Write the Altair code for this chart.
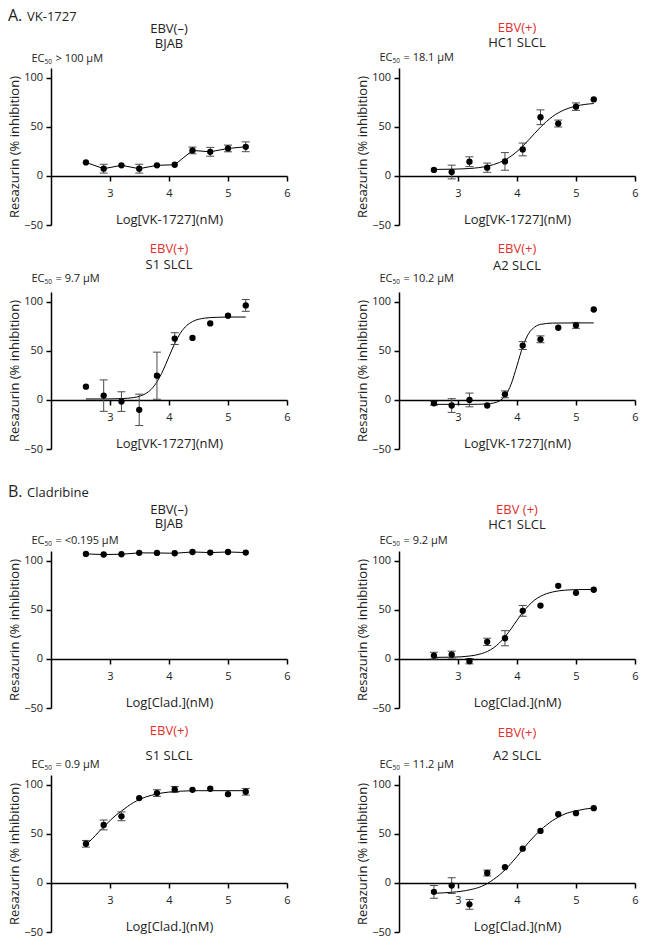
import altair as alt
import pandas as pd

FONT = "Open Sans"
RED = "#e0312f"
INK = "#222222"
GREY = "#4a4a4a"

# ---------------- data ----------------
LOGX = [2.592, 2.893, 3.194, 3.495, 3.796, 4.097, 4.398, 4.699, 5.000, 5.301]

# A. VK-1727
Y_VK_BJAB = [13.8, 7.4, 10.8, 7.4, 10.8, 11.4, 26.0, 24.6, 28.0, 29.7]
E_VK_BJAB = [0, 4.5, 0, 4.5, 0, 0, 3.4, 4.5, 3.4, 5.0]

Y_VK_HC1 = [6.1, 4.0, 14.5, 8.4, 14.8, 27.0, 59.8, 53.4, 70.6, 78.0]
E_VK_HC1 = [0, 7.0, 5.0, 4.7, 9.0, 6.5, 7.5, 3.5, 3.8, 0]
CX_VK_HC1 = [2.592, 2.9, 3.2, 3.5, 3.7, 3.9, 4.0, 4.1, 4.2, 4.3, 4.4, 4.5, 4.6, 4.8, 5.0, 5.301]
CY_VK_HC1 = [6.6, 6.9, 7.6, 10.0, 13.6, 20.2, 24.9, 30.5, 36.8, 43.4, 49.8, 55.5, 60.4, 67.3, 71.2, 73.8]

Y_VK_S1 = [13.5, 4.4, -1.7, -10.1, 24.7, 62.5, 63.2, 78.0, 85.8, 96.3]
E_VK_S1 = [0, 16.0, 10.0, 16.0, 24.0, 6.0, 0, 0, 0, 6.0]
CX_VK_S1 = [2.592, 2.9, 3.2, 3.4, 3.5, 3.6, 3.7, 3.8, 3.9, 4.0, 4.1, 4.2, 4.3, 4.4, 4.6, 4.8, 5.0, 5.301]
CY_VK_S1 = [1.0, 1.0, 1.4, 2.4, 3.7, 6.3, 10.9, 18.8, 30.2, 44.2, 57.9, 68.7, 75.8, 79.9, 83.3, 84.2, 84.5, 84.5]

Y_VK_A2 = [-3.4, -5.7, 0.0, -5.7, 5.7, 55.4, 61.8, 73.6, 76.0, 92.2]
E_VK_A2 = [2.0, 7.0, 7.0, 0, 3.5, 4.0, 3.5, 0, 3.0, 0]
CX_VK_A2 = [2.592, 3.2, 3.5, 3.6, 3.7, 3.8, 3.9, 4.0, 4.1, 4.2, 4.3, 4.4, 4.6, 5.0, 5.301]
CY_VK_A2 = [-4.5, -4.5, -4.0, -3.2, -1.1, 4.3, 16.0, 34.9, 54.7, 67.9, 74.3, 77.0, 78.3, 78.5, 78.5]

# B. Cladribine
Y_CL_BJAB = [107.0, 106.4, 106.7, 108.1, 108.0, 107.7, 109.0, 108.4, 109.0, 108.4]
E_CL_BJAB = [0, 0, 0, 0, 0, 0, 0, 0, 0, 0]

Y_CL_HC1 = [3.4, 4.4, -2.3, 17.4, 21.1, 49.0, 54.4, 74.5, 67.4, 70.5]
E_CL_HC1 = [3.4, 3.5, 2.7, 3.7, 7.7, 5.5, 0, 0, 0, 0]
CX_CL_HC1 = [2.592, 2.9, 3.2, 3.4, 3.5, 3.6, 3.7, 3.8, 3.9, 4.0, 4.1, 4.2, 4.3, 4.4, 4.6, 4.8, 5.0, 5.301]
CY_CL_HC1 = [1.6, 1.8, 3.0, 5.4, 7.7, 11.2, 16.2, 22.8, 30.7, 39.4, 47.6, 54.6, 60.1, 63.9, 68.2, 70.0, 70.6, 70.9]

Y_CL_S1 = [39.9, 59.1, 67.9, 86.5, 91.6, 95.3, 94.9, 96.0, 90.5, 92.9]
E_CL_S1 = [3.4, 5.0, 4.5, 0, 3.4, 3.0, 0, 0, 0, 3.4]
CX_CL_S1 = [2.592, 2.7, 2.8, 2.9, 3.0, 3.1, 3.2, 3.3, 3.4, 3.5, 3.6, 3.7, 3.8, 4.0, 4.2, 4.5, 5.0, 5.301]
CY_CL_S1 = [39.0, 45.0, 51.5, 57.5, 63.5, 69.0, 73.5, 78.0, 82.0, 85.0, 87.5, 89.3, 90.8, 92.6, 93.5, 94.0, 94.0, 94.0]

Y_CL_A2 = [-9.1, -2.7, -21.8, 10.1, 16.1, 34.9, 53.0, 70.1, 71.1, 76.2]
E_CL_A2 = [6.5, 8.0, 5.0, 3.0, 0, 0, 0, 0, 0, 0]
CX_CL_A2 = [2.592, 2.9, 3.2, 3.4, 3.5, 3.6, 3.7, 3.8, 3.9, 4.0, 4.1, 4.2, 4.3, 4.4, 4.5, 4.6, 4.7, 4.8, 5.0, 5.301]
CY_CL_A2 = [-10.5, -9.5, -7.0, -3.5, -0.5, 3.5, 8.0, 13.5, 20.0, 27.0, 34.5, 41.5, 48.0, 54.0, 59.0, 63.5, 67.0, 70.0, 73.5, 76.5]

STATUS = ["EBV(–)", "EBV(+)", "EBV(+)", "EBV(+)", "EBV(–)", "EBV (+)", "EBV(+)", "EBV(+)"]
CELLS = ["BJAB", "HC1 SLCL", "S1 SLCL", "A2 SLCL", "BJAB", "HC1 SLCL", "S1 SLCL", "A2 SLCL"]
EC50 = ["> 100 µM", "= 18.1 µM", "= 9.7 µM", "= 10.2 µM",
        "= <0.195 µM", "= 9.2 µM", "= 0.9 µM", "= 11.2 µM"]
X_TITLES = ["Log[VK-1727](nM)", "Log[Clad.](nM)"]
Y_TITLE = "Resazurin (% inhibition)"
SECTIONS = [("A.", "VK-1727"), ("B.", "Cladribine")]

SERIES = [
    (Y_VK_BJAB, E_VK_BJAB, None, None),
    (Y_VK_HC1, E_VK_HC1, CX_VK_HC1, CY_VK_HC1),
    (Y_VK_S1, E_VK_S1, CX_VK_S1, CY_VK_S1),
    (Y_VK_A2, E_VK_A2, CX_VK_A2, CY_VK_A2),
    (Y_CL_BJAB, E_CL_BJAB, None, None),
    (Y_CL_HC1, E_CL_HC1, CX_CL_HC1, CY_CL_HC1),
    (Y_CL_S1, E_CL_S1, CX_CL_S1, CY_CL_S1),
    (Y_CL_A2, E_CL_A2, CX_CL_A2, CY_CL_A2),
]

# ---------------- layout ----------------
PLOT_W = 236
PLOT_H = 157
COL_GAP = 112
ROW_H = [217, 214, 249, 214]
# baselines (cell-relative) for status line, cell line, EC50 line
TEXT_Y = [(24.6, 39.6, 54), (23.6, 38.6, 53), (17.6, 33.6, 47), (17.6, 34.6, 47),
          (54.6, 68.6, 85), (54.6, 69.6, 85), (17, 42, 49.5), (19, 42, 49.5)]
SECTION_Y = [13, 38]
LEFT_EDGE = -43


def text_layer(s, x, y, size, color=INK, align="left"):
    return alt.Chart(pd.DataFrame({"t": [s]})).mark_text(
        align=align, baseline="alphabetic", fontSize=size, font=FONT, color=color
    ).encode(text="t:N", x=alt.value(x), y=alt.value(y))


def panel(i):
    row = i // 2
    H = ROW_H[row]
    ys_, es_, cx, cy = SERIES[i]
    xscale = alt.Scale(domain=[2, 6], nice=False, zero=False)
    yscale = alt.Scale(domain=[-50, 110], nice=False, zero=False, range=[H, H - PLOT_H])
    xaxis = alt.Axis(values=[3, 4, 5, 6], title=X_TITLES[i // 4], offset=-49,
                     labelFlush=False, labelPadding=6.5, titlePadding=15)
    yaxis = alt.Axis(values=[-50, 0, 50, 100], title=Y_TITLE, labelPadding=3.5,
                     titlePadding=2.5)
    xenc = alt.X("x:Q", scale=xscale, axis=xaxis)

    def yenc(field):
        return alt.Y(f"{field}:Q", scale=yscale, axis=yaxis)

    pts = pd.DataFrame({"x": LOGX, "y": ys_, "err": es_})
    base = alt.Chart(pts)
    if cx is None:
        line = base.mark_line(color="black", strokeWidth=1).encode(x=xenc, y=yenc("y"))
    else:
        line = alt.Chart(pd.DataFrame({"x": cx, "y": cy})).mark_line(
            color="black", strokeWidth=1, interpolate="monotone"
        ).encode(x=xenc, y=yenc("y"))
    eb = base.transform_filter("datum.err > 0").transform_calculate(
        lo="datum.y - datum.err", hi="datum.y + datum.err")
    bars = eb.mark_rule(color=GREY, strokeWidth=1).encode(x=xenc, y=yenc("lo"), y2="hi:Q")
    cap_lo = eb.mark_rule(color=GREY, strokeWidth=1, xOffset=-4, x2Offset=4).encode(
        x=xenc, x2="x:Q", y=yenc("lo"))
    cap_hi = eb.mark_rule(color=GREY, strokeWidth=1, xOffset=-4, x2Offset=4).encode(
        x=xenc, x2="x:Q", y=yenc("hi"))
    dots = base.mark_circle(size=40, color="black", opacity=1).encode(x=xenc, y=yenc("y"))

    t1, t2, te = TEXT_Y[i]
    status_color = RED if "+" in STATUS[i] else INK
    texts = [
        text_layer(STATUS[i], PLOT_W / 2, t1, 13, status_color, "center"),
        text_layer(CELLS[i], PLOT_W / 2, t2, 13, INK, "center"),
        text_layer("EC", -19.5, te, 11),
        text_layer("50", -6.4, te + 2, 6.5),
        text_layer(EC50[i], 4.5, te, 11),
    ]
    if i % 4 == 0:
        letter, name = SECTIONS[i // 4]
        sy = SECTION_Y[i // 4]
        texts.append(text_layer(letter, LEFT_EDGE, sy, 16))
        texts.append(text_layer(name, LEFT_EDGE + 19, sy, 13))

    return alt.layer(line, bars, cap_lo, cap_hi, dots, *texts).properties(
        width=PLOT_W, height=H)


chart = alt.concat(
    *[panel(i) for i in range(8)],
    columns=2,
    spacing={"row": 10, "column": COL_GAP},
    bounds="flush",
).resolve_scale(x="independent", y="independent").properties(
    padding=0
).configure_view(stroke=None).configure_axis(
    grid=False,
    domainColor="black", domainWidth=1.5,
    tickColor="black", tickWidth=1.5, tickSize=5,
    labelFont=FONT, labelFontSize=11, labelColor=INK,
    titleFont=FONT, titleFontSize=13, titleFontWeight="normal", titleColor=INK,
)

chart.save("out.html", embed_options={"renderer": "svg", "actions": False})
